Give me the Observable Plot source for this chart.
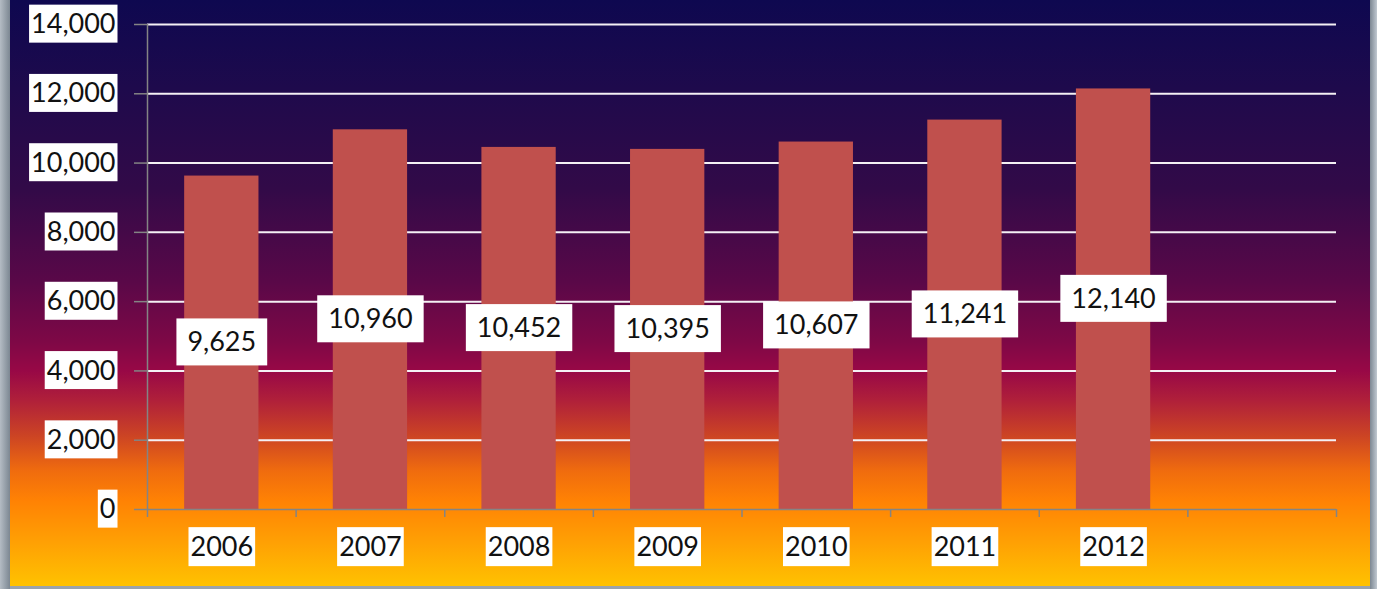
<!DOCTYPE html>
<html>
<head>
<meta charset="utf-8">
<script src="https://cdn.jsdelivr.net/npm/d3@7"></script>
<script src="https://cdn.jsdelivr.net/npm/@observablehq/plot@0.6"></script>
<style>
  html, body { margin: 0; padding: 0; background: #fff; }
  svg { display: block; }
</style>
</head>
<body>
<script>
const years = ["2006", "2007", "2008", "2009", "2010", "2011", "2012"];
const values = [9625, 10960, 10452, 10395, 10607, 11241, 12140];
const yTicks = [0, 2000, 4000, 6000, 8000, 10000, 12000, 14000];
const slotCount = 8; // 7 years plus one empty slot on the right

const fmt = d3.format(",");
const data = years.map((year, i) => ({year, i, value: values[i]}));
const boundaries = d3.range(slotCount + 1).map(k => k - 0.5);

const bg = [
  "linear-gradient(to right, #b4bcc4 0px, #7c8792 10px, transparent 10px, transparent 1370px, #7c8792 1370px, #c0c8d0 1377px)",
  "linear-gradient(to bottom, transparent 0px, transparent 586px, #9aa3ad 586px)",
  "linear-gradient(to bottom, #0e0850 0%, #1e0a4c 15%, #320a48 32%, #5a0848 48%, #7e0846 58%, #980846 63%, #b0203a 68%, #cc4424 74%, #f06c0e 80%, #ff8204 85%, #ffa004 92%, #ffc400 100%)"
].join(", ");

const labelFont = "Lato, 'Open Sans', sans-serif";

const chart = Plot.plot({
  width: 1377,
  height: 589,
  marginLeft: 147,
  marginRight: 41,
  marginTop: 24,
  marginBottom: 80,
  x: {type: "linear", domain: [-0.5, slotCount - 0.5]},
  y: {domain: [0, 14000], label: null},
  style: {background: bg, fontFamily: labelFont, overflow: "visible"},
  marks: [
    Plot.ruleY(yTicks.filter(d => d > 0), {y: d => d, stroke: "#f4f0f4", strokeWidth: 2}),
    Plot.rectY(data, {x1: d => d.i - 0.25, x2: d => d.i + 0.25, y: "value", fill: "#C0504D"}),
    Plot.ruleY([0], {stroke: "#848484", strokeWidth: 1.5}),
    Plot.ruleX([-0.5], {stroke: "#848484", strokeWidth: 1.5}),
    Plot.axisY({ticks: yTicks, tickSize: 13, tickFormat: () => "", stroke: "#848484", strokeWidth: 1.5, label: null}),
    Plot.axisX({ticks: boundaries, tickSize: 8, tickFormat: () => "", stroke: "#848484", strokeWidth: 1.5, label: null}),
    Plot.text(yTicks, {y: d => d, frameAnchor: "left", dx: -32, textAnchor: "end", lineAnchor: "middle", text: d => fmt(d), fontSize: 27, fill: "#111"}),
    Plot.text(data, {x: "i", frameAnchor: "bottom", dy: 38, lineAnchor: "middle", text: "year", fontSize: 27, fill: "#111"}),
    Plot.text(data, {x: "i", y: d => d.value / 2, lineAnchor: "middle", text: d => fmt(d.value), fontSize: 27, fill: "#111"})
  ]
});

document.body.append(chart);

function addBoxes() {
  const groups = chart.querySelectorAll('g[aria-label="text"]');
  const specs = [
    {padX: 2, h: 38},
    {padX: 2, h: 39},
    {padX: 11, h: 47}
  ];
  groups.forEach((g, gi) => {
    const spec = specs[gi] || specs[0];
    g.querySelectorAll("text").forEach(t => {
      const b = t.getBBox();
      const r = document.createElementNS("http://www.w3.org/2000/svg", "rect");
      const cy = b.y + b.height / 2 + 1;
      r.setAttribute("x", b.x - spec.padX);
      r.setAttribute("width", b.width + 2 * spec.padX);
      r.setAttribute("y", cy - spec.h / 2);
      r.setAttribute("height", spec.h);
      r.setAttribute("fill", "#ffffff");
      r.setAttribute("stroke", "none");
      const tr = t.getAttribute("transform");
      if (tr) r.setAttribute("transform", tr);
      t.parentNode.insertBefore(r, t);
    });
  });
}
if (document.fonts && document.fonts.ready) {
  document.fonts.ready.then(addBoxes);
} else {
  addBoxes();
}
</script>
</body>
</html>
